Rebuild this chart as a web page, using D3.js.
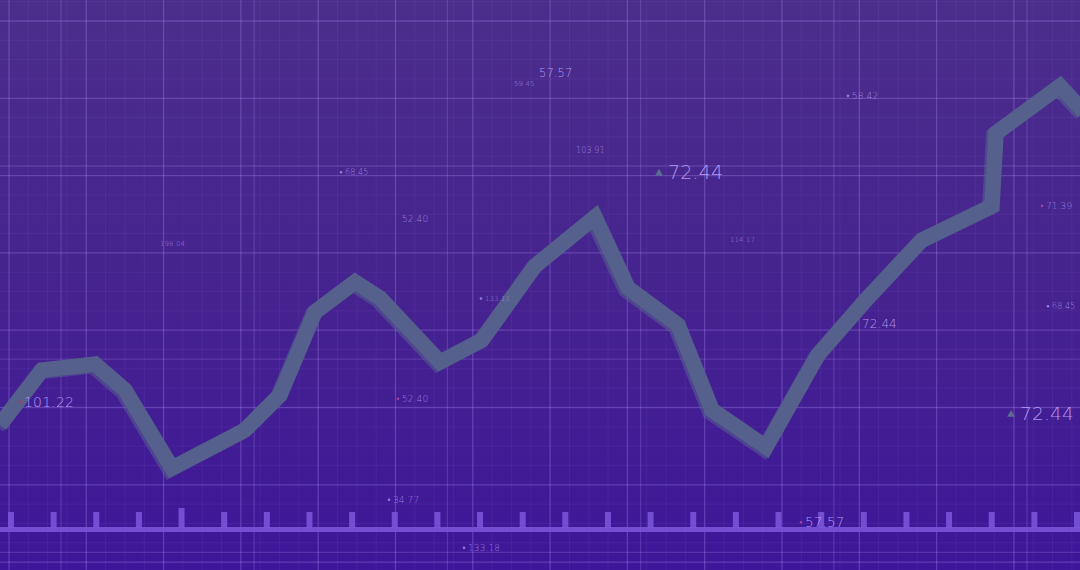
<!DOCTYPE html>
<html>
<head>
<meta charset="utf-8">
<script src="https://cdn.jsdelivr.net/npm/d3@7"></script>
<style>
  html, body { margin: 0; padding: 0; background: #43228f; }
  svg { display: block; }
</style>
</head>
<body>
<svg id="chart" width="1080" height="570"></svg>
<script>
// ---- data (time units on x, price units on y) ----
const times  = [0, 4.2, 9.5, 12.5, 17.2, 24.5, 28, 31.5, 35.5, 38, 44, 48.2, 53.5, 59.5, 62.8, 67.8, 71.2, 76.6, 81.8, 86.6, 92.2, 99.2, 99.6, 106, 108.4];
const prices = [29, 40, 41.2, 36, 20.4, 28, 35, 51.6, 57.6, 54.4, 41.6, 46, 60.8, 70.6, 56.4, 49, 32, 24.6, 43, 54, 66, 72.8, 87.4, 96.8, 91.6];

const labelTexts  = ["57.57", "59.45", "103.91", "72.44", "68.45", "58.42", "52.40", "198.04", "114.17", "71.39", "133.11", "72.44", "68.45", "101.22", "52.40", "72.44", "34.77", "57.57", "133.18"];
const labelTimes  = [53.9, 51.4, 57.6, 66.8, 34.5, 85.2, 40.2, 16.0, 73.0, 104.6, 48.5, 86.2, 105.2, 2.4, 40.2, 102.0, 39.3, 80.5, 46.8];
const labelPrices = [98.6, 96.8, 83.4, 78.2, 79.0, 94.2, 69.6, 64.8, 65.6, 72.2, 53.8, 48.4, 52.2, 32.6, 33.6, 30.0, 13.4, 8.6, 3.8];
const labelMarks  = ["none", "none", "none", "up", "dot", "dot", "none", "none", "none", "pink", "dot", "none", "dot", "red", "pink", "up", "dot", "pink", "dot"];

const tickerTimes = d3.range(26).map(i => 1.1 + i * 4.264);
const tickerMajor = [4];

// ---- styles ----
const W = 1080, H = 570;
const labelSizes = [11.5, 7, 8, 19, 8, 9, 9, 7, 7, 9, 7, 12, 8, 14, 9, 18.5, 9, 13.5, 9];

const x = d3.scaleLinear().domain([0, 108]).range([0, W]);
const y = d3.scaleLinear().domain([0, 114]).range([H, 0]);

const svg = d3.select("#chart");
const defs = svg.append("defs");
const bg = defs.append("linearGradient").attr("id", "bg").attr("x1", 0).attr("y1", 0).attr("x2", 0).attr("y2", 1);
bg.append("stop").attr("offset", "0%").attr("stop-color", "#4b2e8b");
bg.append("stop").attr("offset", "55%").attr("stop-color", "#45228f");
bg.append("stop").attr("offset", "100%").attr("stop-color", "#3d1699");
svg.append("rect").attr("width", W).attr("height", H).attr("fill", "url(#bg)");

// minor grid
const g = svg.append("g");
const minorStep = 77.3 / 4;
d3.range(9 - minorStep * 1, W, minorStep).forEach(v => {
  g.append("line").attr("x1", v).attr("x2", v).attr("y1", 0).attr("y2", H)
    .attr("stroke", "#9a7be8").attr("stroke-opacity", 0.1).attr("stroke-width", 1);
});
d3.range(21 - minorStep * 1, H, minorStep).forEach(v => {
  g.append("line").attr("y1", v).attr("y2", v).attr("x1", 0).attr("x2", W)
    .attr("stroke", "#9a7be8").attr("stroke-opacity", 0.1).attr("stroke-width", 1);
});
// major grid A
d3.range(9, W + 1, 77.3).forEach(v => {
  g.append("line").attr("x1", v).attr("x2", v).attr("y1", 0).attr("y2", H)
    .attr("stroke", "#a98af0").attr("stroke-opacity", 0.28).attr("stroke-width", 1.3);
});
d3.range(21, H + 1, 77.3).forEach(v => {
  g.append("line").attr("y1", v).attr("y2", v).attr("x1", 0).attr("x2", W)
    .attr("stroke", "#a98af0").attr("stroke-opacity", 0.28).attr("stroke-width", 1.3);
});
// major grid B
d3.range(61, W + 1, 193.2).forEach(v => {
  g.append("line").attr("x1", v).attr("x2", v).attr("y1", 0).attr("y2", H)
    .attr("stroke", "#a98af0").attr("stroke-opacity", 0.24).attr("stroke-width", 1.3);
});
d3.range(166, H + 1, 193.2).forEach(v => {
  g.append("line").attr("y1", v).attr("y2", v).attr("x1", 0).attr("x2", W)
    .attr("stroke", "#a98af0").attr("stroke-opacity", 0.24).attr("stroke-width", 1.3);
});

// ticker bar
const tk = svg.append("g");
tk.append("rect").attr("x", 0).attr("y", 527).attr("width", W).attr("height", 5)
  .attr("fill", "#7a54d8").attr("fill-opacity", 0.9);
tk.selectAll("rect.tick").data(tickerTimes).join("rect")
  .attr("class", "tick")
  .attr("x", d => x(d) - 3)
  .attr("y", (d, i) => tickerMajor.includes(i) ? 508 : 512)
  .attr("width", 6)
  .attr("height", (d, i) => tickerMajor.includes(i) ? 20 : 16)
  .attr("fill", "#7a54d8").attr("fill-opacity", 0.9);

// line
const pts = times.map((t, i) => [t, prices[i]]);
const line = d3.line().x(d => x(d[0])).y(d => y(d[1]));
svg.append("path").datum(pts).attr("d", line)
  .attr("transform", "translate(-2.5,2)")
  .attr("fill", "none").attr("stroke", "#57638f").attr("stroke-opacity", 0.55)
  .attr("stroke-width", 15).attr("stroke-linejoin", "miter");
svg.append("path").datum(pts).attr("d", line)
  .attr("fill", "none").attr("stroke", "#55608c")
  .attr("stroke-width", 15.5).attr("stroke-linejoin", "miter");

// labels
const lg = svg.append("g");
labelTexts.forEach((t, i) => {
  const lx = x(labelTimes[i]), ly = y(labelPrices[i]);
  const s = labelSizes[i];
  lg.append("text").attr("x", lx).attr("y", ly)
    .attr("font-family", "DejaVu Sans")
    .attr("font-weight", 200)
    .attr("font-size", s)
    .attr("letter-spacing", s > 12 ? 0.2 : 0.1)
    .attr("fill", "#c3a8ff").attr("fill-opacity", s > 11 ? 0.88 : 0.7)
    .text(t);
  const m = labelMarks[i];
  if (m === "up") {
    const tri = d3.symbol().type(d3.symbolTriangle).size(26);
    lg.append("path").attr("d", tri())
      .attr("transform", `translate(${lx - 9},${ly - s * 0.3})`)
      .attr("fill", "#5d7590").attr("fill-opacity", 0.9);
  } else if (m !== "none") {
    lg.append("circle").attr("cx", lx - 4).attr("cy", ly - s * 0.35).attr("r", 1.3)
      .attr("fill", m === "red" ? "#c0305e" : (m === "pink" ? "#b24a9a" : "#a58ae8"))
      .attr("fill-opacity", 0.85);
  }
});
</script>
</body>
</html>
